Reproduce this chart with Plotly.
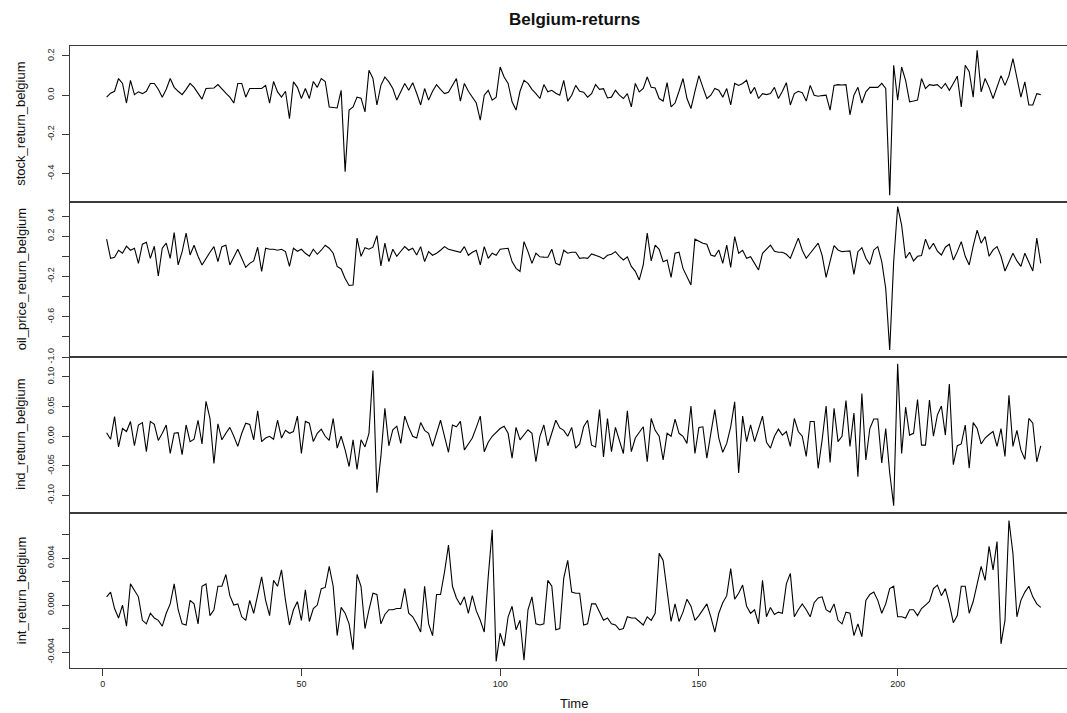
import plotly.graph_objects as go
from plotly.subplots import make_subplots

# Monthly return series for Belgium (time index 1..236)
stock_return_belgium = [
    -0.01, 0.01, 0.02, 0.085, 0.06, -0.04, 0.076, 0.003, 0.017, 0.008,
    0.02, 0.06, 0.06, 0.03, -0.01, 0.03, 0.085, 0.04, 0.02, 0.003,
    0.03, 0.06, 0.04, 0.01, -0.02, 0.034, 0.035, 0.037, 0.054, 0.03,
    0.01, -0.01, -0.04, 0.06, 0.06, -0.01, 0.034, 0.034, 0.035, 0.034,
    0.05, -0.04, 0.07, 0.017, -0.01, 0.02, -0.12, 0.068, 0.04, -0.017,
    0.034, -0.017, 0.07, 0.04, 0.085, 0.07, -0.06, -0.062, -0.065, 0.025,
    -0.39, -0.076, -0.06, -0.01, -0.015, -0.085, 0.127, 0.085, -0.05, 0.05,
    0.093, 0.068, 0.034, -0.025, 0.017, 0.06, 0.025, 0.064, 0.01, -0.05,
    0.034, -0.025, 0.02, 0.054, 0.03, 0.008, 0.015, 0.05, 0.085, -0.03,
    0.06, 0.02, -0.01, -0.04, -0.127, 0.0, 0.025, -0.025, -0.01, 0.144,
    0.093, 0.06, -0.034, -0.076, 0.02, 0.076, 0.06, 0.03, 0.008, -0.017,
    0.054, 0.017, 0.025, 0.01, 0.0, 0.076, -0.03, 0.0, 0.05, 0.02,
    0.015, -0.01, 0.008, 0.054, 0.03, 0.033, -0.014, -0.01, 0.025, 0.0,
    -0.017, 0.008, -0.06, 0.06, 0.017, 0.034, 0.093, 0.04, 0.037, -0.017,
    -0.03, 0.064, -0.06, -0.04, 0.02, 0.085, -0.017, -0.068, 0.02, 0.1,
    0.04, -0.017, 0.0, 0.034, 0.025, -0.01, 0.034, -0.05, 0.06, 0.05,
    0.06, 0.076, 0.008, 0.04, -0.017, 0.008, 0.003, 0.008, 0.04, -0.017,
    0.02, 0.064, -0.05, 0.008, 0.02, 0.013, -0.03, 0.05, 0.0, -0.005,
    -0.002, 0.0, -0.076, 0.05, 0.054, 0.052, 0.054, -0.1, 0.0, 0.04,
    -0.04, 0.017, 0.04, 0.04, 0.04, 0.06, 0.034, -0.51, 0.153, -0.025,
    0.144, 0.076, -0.034, -0.03, -0.025, 0.085, 0.034, 0.054, 0.05, 0.054,
    0.034, 0.06, 0.025, 0.06, 0.097, -0.06, 0.153, 0.12, -0.01, 0.229,
    0.017, 0.085, 0.04, -0.017, 0.04, 0.1, 0.05, 0.1, 0.187, 0.085,
    -0.01, 0.068, -0.05, -0.05, 0.008, 0.003,
]

oil_price_return_belgium = [
    0.17, -0.02, -0.01, 0.06, 0.03, 0.10, 0.06, 0.08, -0.07, 0.12,
    0.14, -0.02, 0.10, -0.196, 0.08, 0.13, -0.02, 0.235, -0.086, 0.046,
    0.23, 0.013, 0.11, 0.0, -0.086, -0.02, 0.04, 0.096, -0.053, 0.096,
    0.11, -0.086, 0.0, 0.07, -0.02, -0.11, -0.07, -0.046, 0.09, -0.15,
    0.08, 0.07, 0.07, 0.06, 0.07, 0.046, -0.1, 0.08, 0.05, 0.07,
    0.03, 0.0, 0.07, 0.02, 0.06, 0.11, 0.08, 0.03, -0.1, -0.126,
    -0.22, -0.29, -0.285, 0.18, 0.0, 0.086, 0.07, 0.09, 0.205, -0.096,
    0.13, -0.053, 0.07, 0.0, 0.05, 0.096, 0.06, 0.08, 0.013, 0.096,
    -0.053, 0.046, 0.01, 0.03, 0.06, 0.096, 0.07, 0.06, 0.05, 0.04,
    0.096, 0.01, 0.04, 0.06, -0.086, 0.096, -0.02, 0.03, 0.01, 0.07,
    0.075, 0.08, -0.053, -0.12, -0.15, 0.146, 0.046, -0.07, 0.03, -0.005,
    -0.008, -0.01, 0.07, -0.07, -0.086, 0.06, 0.03, 0.04, 0.04, -0.02,
    -0.015, -0.02, 0.023, 0.01, -0.005, -0.026, 0.01, 0.02, 0.046, 0.0,
    -0.036, -0.005, -0.1, -0.15, -0.235, -0.086, 0.23, -0.046, 0.11, 0.07,
    -0.053, -0.036, -0.21, 0.03, 0.04, -0.12, -0.2, -0.285, 0.17, 0.15,
    0.13, 0.12, 0.013, 0.0, 0.063, -0.07, 0.11, -0.11, 0.196, 0.03,
    0.06, -0.02, -0.005, -0.07, -0.136, 0.03, 0.07, 0.11, 0.05, 0.04,
    0.04, 0.02, -0.02, 0.08, 0.18, 0.06, -0.02, 0.03, 0.08, 0.13,
    0.01, -0.21, -0.05, 0.106, 0.063, 0.046, 0.05, 0.053, -0.18, 0.046,
    0.086, -0.02, -0.08, 0.063, 0.096, -0.053, -0.32, -0.93, -0.053, 0.494,
    0.31, -0.02, 0.04, -0.046, 0.0, 0.007, 0.17, 0.07, 0.13, 0.05,
    0.013, 0.09, 0.12, -0.036, 0.046, 0.146, 0.0, -0.086, 0.1, 0.26,
    0.13, 0.196, 0.0, 0.063, 0.096, 0.0, -0.146, -0.053, 0.03, -0.046,
    -0.1, 0.03, -0.05, -0.146, 0.18, -0.07,
]

ind_return_belgium = [
    0.006, -0.005, 0.033, -0.018, 0.013, 0.008, 0.025, -0.016, 0.019, 0.023,
    -0.026, 0.025, 0.02, -0.007, 0.005, 0.019, -0.029, 0.005, 0.006, -0.031,
    0.019, -0.009, -0.005, 0.027, -0.013, 0.059, 0.03, -0.046, 0.021, -0.006,
    0.005, 0.015, 0.0, -0.017, 0.005, 0.022, 0.02, -0.006, 0.043, -0.009,
    -0.003, 0.0, -0.005, 0.027, -0.003, 0.01, 0.005, 0.008, 0.034, -0.029,
    0.025, 0.022, -0.009, 0.005, 0.012, 0.0, -0.007, 0.03, -0.02, 0.0,
    -0.023, -0.051, -0.006, -0.056, -0.006, -0.018, 0.005, 0.111, -0.095, -0.034,
    0.047, -0.016, 0.011, 0.017, -0.012, 0.034, 0.015, 0.0, -0.003, 0.023,
    0.01, 0.005, -0.017, 0.005, 0.027, 0.0, -0.027, 0.019, 0.016, 0.025,
    -0.023, -0.013, -0.003, 0.015, 0.034, -0.026, -0.01, 0.0, 0.006, 0.013,
    0.017, 0.005, -0.037, 0.015, -0.006, 0.002, 0.011, 0.005, -0.043, 0.0,
    0.019, -0.016, 0.005, 0.027, 0.014, 0.01, 0.0, 0.015, -0.02, -0.013,
    0.016, 0.027, -0.015, -0.018, 0.045, -0.035, 0.03, -0.026, 0.015, -0.006,
    -0.029, 0.043, -0.026, -0.003, 0.006, 0.016, -0.043, 0.03, 0.01, 0.0,
    -0.04, 0.005, 0.0, 0.029, 0.005, 0.0, -0.012, 0.051, -0.029, 0.015,
    0.016, -0.037, 0.005, 0.045, -0.003, -0.027, -0.012, 0.016, 0.058, -0.062,
    0.034, -0.009, 0.019, -0.009, 0.012, 0.034, -0.01, -0.02, 0.0, 0.012,
    0.002, 0.008, -0.017, 0.03, 0.008, 0.0, -0.034, 0.025, 0.025, -0.054,
    -0.006, 0.051, -0.044, 0.047, -0.009, 0.0, 0.06, -0.017, 0.039, -0.068,
    0.072, -0.04, 0.013, 0.029, 0.029, -0.045, 0.013, -0.062, -0.117, 0.122,
    -0.029, 0.049, 0.002, 0.005, 0.062, -0.015, -0.015, 0.061, 0.0, 0.036,
    0.051, 0.002, 0.088, -0.048, -0.016, -0.013, 0.019, -0.054, 0.023, 0.013,
    -0.013, -0.003, 0.003, 0.008, -0.017, 0.013, -0.034, 0.069, -0.017, 0.01,
    -0.023, -0.039, 0.03, 0.022, -0.043, -0.016,
]

int_return_belgium = [
    0.0007, 0.0011, -0.0003, -0.0011, 0.0000, -0.0018, 0.0018, 0.0013, 0.0007, -0.0013,
    -0.0016, -0.0007, -0.0011, -0.0013, -0.0018, -0.0007, 0.0001, 0.0018, -0.0004, -0.0016,
    -0.0017, 0.0004, 0.0001, -0.0016, 0.0016, 0.0018, -0.0009, -0.0004, 0.0016, 0.0016,
    0.0026, 0.0008, 0.0000, 0.0001, -0.0010, -0.0013, 0.0004, -0.0007, 0.0008, 0.0024,
    0.0004, -0.0009, 0.0021, 0.0016, 0.0030, 0.0004, -0.0017, -0.0004, 0.0003, -0.0013,
    0.0013, -0.0014, -0.0003, 0.0000, 0.0014, 0.0015, 0.0033, 0.0016, -0.0026, -0.0002,
    -0.0007, -0.0016, -0.0038, 0.0026, 0.0016, -0.0020, -0.0004, 0.0010, 0.0009, -0.0016,
    -0.0008, -0.0004, -0.0004, -0.0003, -0.0003, 0.0014, -0.0007, -0.0010, -0.0016, -0.0023,
    0.0016, -0.0016, -0.0026, 0.0009, 0.0009, 0.0028, 0.0051, 0.0016, 0.0006, 0.0000,
    0.0007, -0.0007, 0.0008, -0.0005, -0.0013, -0.0023, 0.0024, 0.0064, -0.0048, -0.0024,
    -0.0035, -0.0010, -0.0001, -0.0021, -0.0013, -0.0047, -0.0004, 0.0007, -0.0016, -0.0017,
    -0.0016, 0.0021, 0.0016, -0.0021, -0.0020, 0.0023, 0.0038, 0.0011, 0.0010, 0.0010,
    -0.0017, -0.0016, 0.0001, 0.0001, -0.0006, -0.0013, -0.0011, -0.0016, -0.0017, -0.0021,
    -0.0020, -0.0010, -0.0011, -0.0011, -0.0014, -0.0017, -0.0010, -0.0013, -0.0007, 0.0044,
    0.0038, 0.0013, -0.0014, 0.0001, -0.0014, -0.0006, 0.0005, -0.0001, -0.0013, -0.0009,
    -0.0004, 0.0001, -0.0010, -0.0023, -0.0007, 0.0002, 0.0008, 0.0031, 0.0005, 0.0010,
    0.0017, -0.0001, -0.0007, -0.0004, -0.0016, 0.0021, -0.0010, -0.0002, -0.0008, -0.0006,
    -0.0007, 0.0018, 0.0027, -0.0010, -0.0004, 0.0001, -0.0004, -0.0010, 0.0002, 0.0006,
    0.0007, -0.0004, -0.0006, 0.0001, -0.0013, -0.0016, -0.0006, -0.0007, -0.0026, -0.0016,
    -0.0027, 0.0004, 0.0009, 0.0011, 0.0004, -0.0007, 0.0001, 0.0014, 0.0016, -0.0010,
    -0.0010, -0.0011, -0.0004, -0.0004, -0.0009, -0.0003, 0.0000, 0.0003, 0.0014, 0.0017,
    0.0008, 0.0014, 0.0001, -0.0015, -0.0009, 0.0016, 0.0016, -0.0007, 0.0003, 0.0018,
    0.0033, 0.0021, 0.0050, 0.0030, 0.0054, -0.0033, -0.0013, 0.0072, 0.0044, -0.0010,
    0.0004, 0.0011, 0.0016, 0.0007, 0.0001, -0.0002,
]

series_names = [
    "stock_return_belgium",
    "oil_price_return_belgium",
    "ind_return_belgium",
    "int_return_belgium",
]
series_values = [
    stock_return_belgium,
    oil_price_return_belgium,
    ind_return_belgium,
    int_return_belgium,
]

# y-axis ticks per panel (blank text = tick without a label)
y_tickvals = [
    [-0.4, -0.2, 0.0, 0.2],
    [-1.0, -0.8, -0.6, -0.4, -0.2, 0.0, 0.2, 0.4],
    [-0.10, -0.05, 0.0, 0.05, 0.10],
    [-0.004, -0.002, 0.0, 0.002, 0.004, 0.006],
]
y_ticktext = [
    ["-0.4", "-0.2", "0.0", "0.2"],
    ["-1.0", "", "-0.6", "", "-0.2", "", "0.2", "0.4"],
    ["-0.10", "-0.05", "0.00", "0.05", "0.10"],
    ["-0.004", "", "0.000", "", "0.004", ""],
]
y_ranges = [
    [-0.5425, 0.251],
    [-1.0, 0.544],
    [-0.1285, 0.1336],
    [-0.00536, 0.00788],
]

x_tickvals = [0, 50, 100, 150, 200]
x_ticktext = ["0", "50", "100", "150", "200"]

FONT = "Liberation Sans, Arial, sans-serif"
AXIS_COLOR = "#3a3a3a"
W, H = 1067, 713
M_L, M_R, M_T, M_B = 70, 0, 46, 45

fig = make_subplots(rows=4, cols=1, shared_xaxes=True, vertical_spacing=0)

for i, vals in enumerate(series_values):
    t = list(range(1, len(vals) + 1))
    fig.add_trace(
        go.Scatter(x=t, y=vals, mode="lines",
                   line=dict(color="black", width=1.1),
                   showlegend=False, hoverinfo="skip"),
        row=i + 1, col=1,
    )
    fig.update_yaxes(
        row=i + 1, col=1,
        range=y_ranges[i],
        tickvals=y_tickvals[i], ticktext=y_ticktext[i],
        tickangle=-90,
        ticks="outside", ticklen=7, tickwidth=1, tickcolor=AXIS_COLOR,
        ticklabelstandoff=4,
        tickfont=dict(family=FONT, size=9, color="#222"),
        showline=True, linecolor=AXIS_COLOR, linewidth=1, mirror=False,
        showgrid=False, zeroline=False,
    )
    last = i == len(series_values) - 1
    fig.update_xaxes(
        row=i + 1, col=1,
        range=[-8.21, 242.6],
        tickvals=x_tickvals, ticktext=x_ticktext,
        ticks="outside" if last else "", ticklen=7, tickwidth=1, tickcolor=AXIS_COLOR,
        showticklabels=last,
        tickfont=dict(family=FONT, size=9, color="#222"),
        showline=True, linecolor=AXIS_COLOR, linewidth=1, mirror=True,
        showgrid=False, zeroline=False,
    )

plot_h = H - M_T - M_B
plot_w = W - M_L - M_R
annotations = []
for i, name in enumerate(series_names):
    y_center = 1 - (i + 0.5) / 4
    annotations.append(dict(
        text=name, x=(21 - M_L) / plot_w, y=y_center, xref="paper", yref="paper",
        xanchor="center", yanchor="middle", textangle=-90, showarrow=False,
        font=dict(family=FONT, size=13, color="#111"),
    ))
annotations.append(dict(
    text="<b>Belgium-returns</b>", x=(574 - M_L) / plot_w, y=1 + (M_T - 19) / plot_h,
    xref="paper", yref="paper", xanchor="center", yanchor="middle", showarrow=False,
    font=dict(family=FONT, size=17, color="#111"),
))
annotations.append(dict(
    text="Time", x=(574 - M_L) / plot_w, y=-(703 - (H - M_B)) / plot_h,
    xref="paper", yref="paper", xanchor="center", yanchor="middle", showarrow=False,
    font=dict(family=FONT, size=13, color="#111"),
))

fig.update_layout(
    width=W, height=H,
    margin=dict(l=M_L, r=M_R, t=M_T, b=M_B, pad=0),
    paper_bgcolor="white", plot_bgcolor="white",
    annotations=annotations,
    showlegend=False,
)

fig.write_html("out.html")
